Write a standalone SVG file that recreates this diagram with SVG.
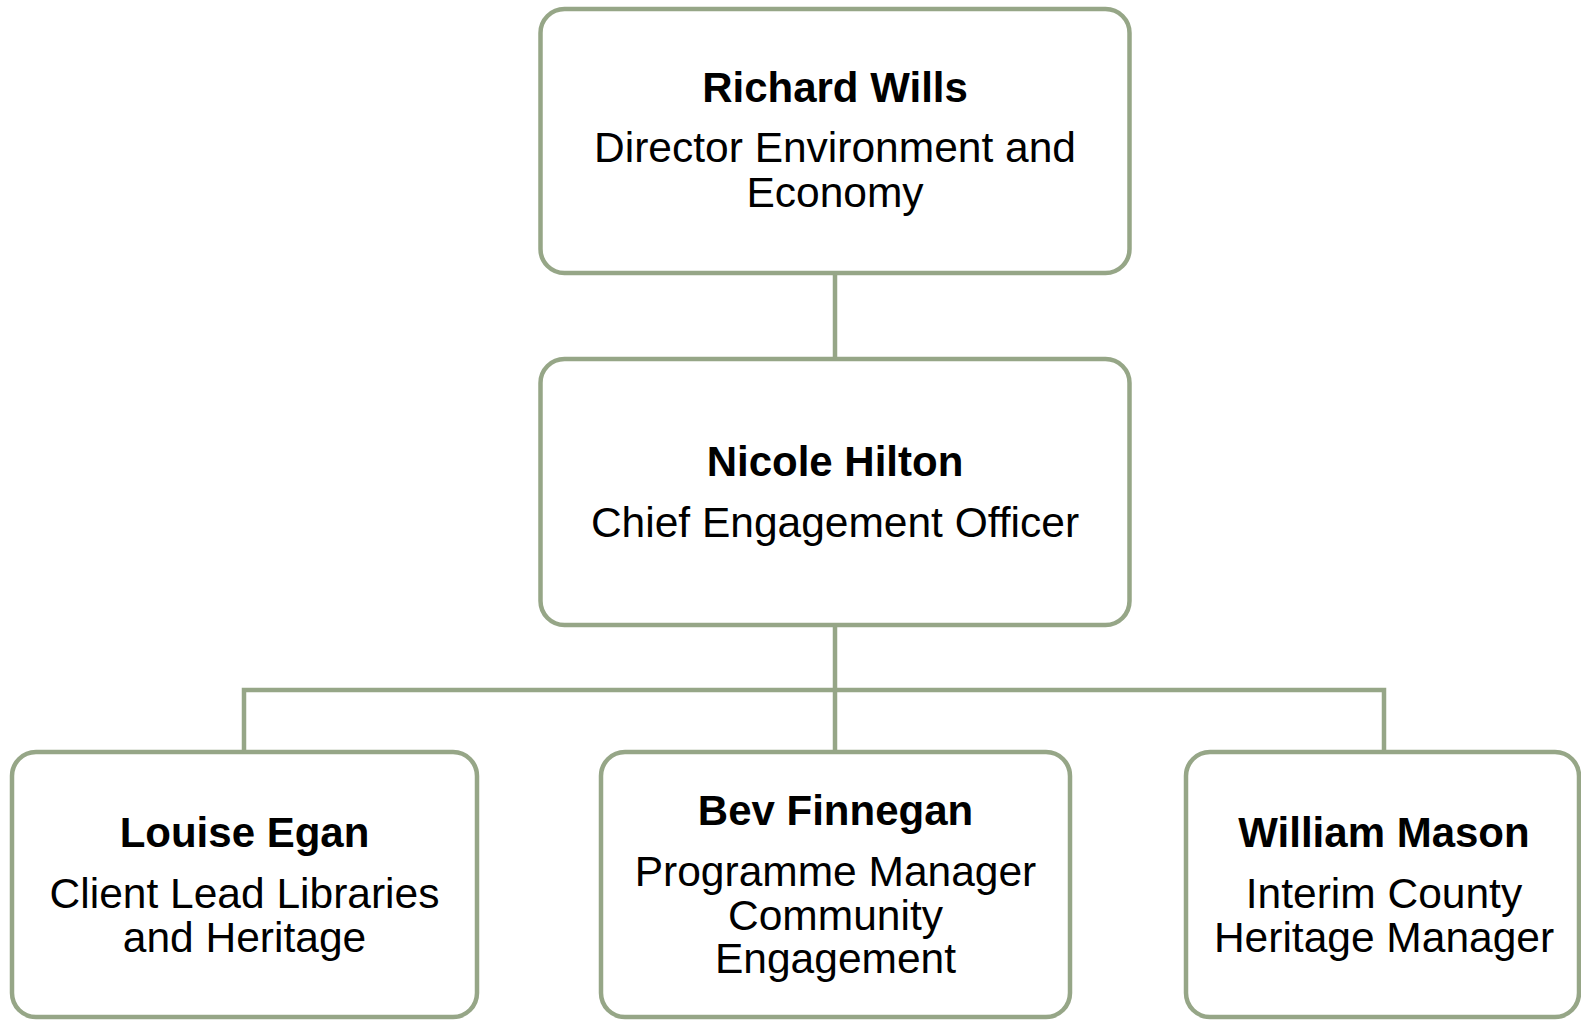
<svg xmlns="http://www.w3.org/2000/svg" width="1581" height="1020" viewBox="0 0 1581 1020">
<style>
.box{fill:#ffffff;stroke:#96a687;stroke-width:4.5}
.conn{fill:none;stroke:#96a687;stroke-width:4.5}
.name{font-family:"Liberation Sans",Arial,sans-serif;font-weight:bold;font-size:42px;fill:#000;text-anchor:middle}
.role{font-family:"Liberation Sans",Arial,sans-serif;font-size:42.5px;fill:#000;text-anchor:middle}
</style>
<rect width="1581" height="1020" fill="#ffffff"/>
<g id="connectors">
<path class="conn" d="M835 273 V359"/>
<path class="conn" d="M835 625 V752"/>
<path class="conn" d="M244 752 V690 H1384 V752"/>
</g>
<g id="richard">
<rect class="box" x="540.5" y="9" width="589" height="264" rx="24"/>
<text class="name" x="835" y="102">Richard Wills</text>
<text class="role" x="835" y="162">Director Environment and</text>
<text class="role" x="835" y="207">Economy</text>
</g>
<g id="nicole">
<rect class="box" x="540.5" y="359" width="589" height="266" rx="24"/>
<text class="name" x="835" y="476">Nicole Hilton</text>
<text class="role" x="835" y="537">Chief Engagement Officer</text>
</g>
<g id="louise">
<rect class="box" x="12" y="752" width="465" height="265" rx="24"/>
<text class="name" x="244.5" y="847">Louise Egan</text>
<text class="role" x="244.5" y="908">Client Lead Libraries</text>
<text class="role" x="244.5" y="952">and Heritage</text>
</g>
<g id="bev">
<rect class="box" x="601" y="752" width="469" height="265" rx="24"/>
<text class="name" x="835.5" y="825">Bev Finnegan</text>
<text class="role" x="835.5" y="886">Programme Manager</text>
<text class="role" x="835.5" y="930">Community</text>
<text class="role" x="835.5" y="973">Engagement</text>
</g>
<g id="william">
<rect class="box" x="1186" y="752" width="393" height="265" rx="24"/>
<text class="name" x="1384" y="847">William Mason</text>
<text class="role" x="1384" y="908">Interim County</text>
<text class="role" x="1384" y="952">Heritage Manager</text>
</g>
</svg>
